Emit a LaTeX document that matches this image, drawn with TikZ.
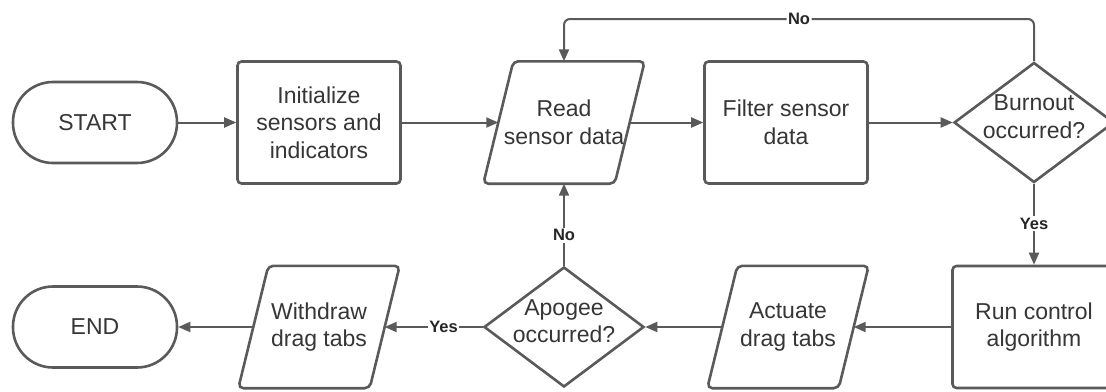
\documentclass[tikz,border=0pt]{standalone}
\usepackage{fontspec}
\setmainfont{Liberation Sans}
\usetikzlibrary{shapes.geometric,arrows.meta}
\definecolor{edgegray}{HTML}{5A5A5A}
\definecolor{txtgray}{HTML}{363636}

% parallelogram (data / IO) drawn round an invisible anchor node
\newcommand\ioshape[1]{%
  \draw[outline, rounded corners=5pt]
    ([xshift=-15pt]#1.south west) -- ([xshift=15pt]#1.north west) --
    ([xshift=15pt]#1.north east) -- ([xshift=-15pt]#1.south east) -- cycle;}

\begin{document}
\begin{tikzpicture}[x=1pt,y=-1pt,
  every node/.style={text=txtgray, font=\fontsize{23}{27.5}\selectfont, align=center},
  outline/.style={draw=edgegray, line width=2.6pt},
  terminal/.style={outline, rectangle, rounded corners=40pt, minimum width=164pt, minimum height=81pt},
  procbox/.style={outline, rectangle, rounded corners=4pt, minimum width=163pt, minimum height=122pt},
  iobox/.style={rectangle, minimum width=131pt, minimum height=122pt, inner sep=0pt},
  decision/.style={outline, diamond, minimum width=160pt, minimum height=120pt, inner sep=0pt},
  flow/.style={draw=edgegray, line width=2pt, -{Triangle[length=12pt,width=10pt]}},
  lbl/.style={fill=white, font=\bfseries\fontsize{16.5}{19}\selectfont, inner sep=1.5pt, text=black!85}
]
\useasboundingbox (0,0) rectangle (1106,391);
\fill[white] (0,0) rectangle (1106,391);
\clip (0,0) rectangle (1106,391);

% top row
\node[terminal] (start) at (95,122.5) {START};
\node[procbox] (init) at (319,122.5) {Initialize\\sensors and\\indicators};
\node[iobox] (read) at (564,122.5) {Read\\sensor data};
\ioshape{read}
\node[procbox] (filter) at (786,122.5) {Filter sensor\\data};
\node[decision, label={[yshift=6pt]center:{Burnout\\occurred?}}] (burn) at (1034,122.5) {};

% bottom row
\node[procbox] (run) at (1034,327) {Run control\\algorithm};
\node[iobox] (act) at (788,327) {Actuate\\drag tabs};
\ioshape{act}
\node[decision, label={[yshift=6pt]center:{Apogee\\occurred?}}] (apo) at (564,327) {};
\node[iobox] (wd) at (319,327) {Withdraw\\drag tabs};
\ioshape{wd}
\node[terminal] (endn) at (95,327) {END};

\coordinate (looptop) at (0,19);

% connectors
\draw[flow] (start) -- (init);
\draw[flow] (init) -- (read);
\draw[flow] (read) -- (filter);
\draw[flow] (filter) -- (burn);
\draw[flow, rounded corners=6pt] (burn.north) -- (burn.north |- looptop) -| node[lbl, pos=0.25] {No} (read.north);
\draw[flow] (burn) -- node[lbl, pos=0.49] {Yes} (run);
\draw[flow] (run) -- (act);
\draw[flow] (act) -- (apo);
\draw[flow] (apo) -- node[lbl, pos=0.37] {No} (read);
\draw[flow] (apo) -- node[lbl, pos=0.4] {Yes} (wd);
\draw[flow] (wd) -- (endn);
\end{tikzpicture}
\end{document}
